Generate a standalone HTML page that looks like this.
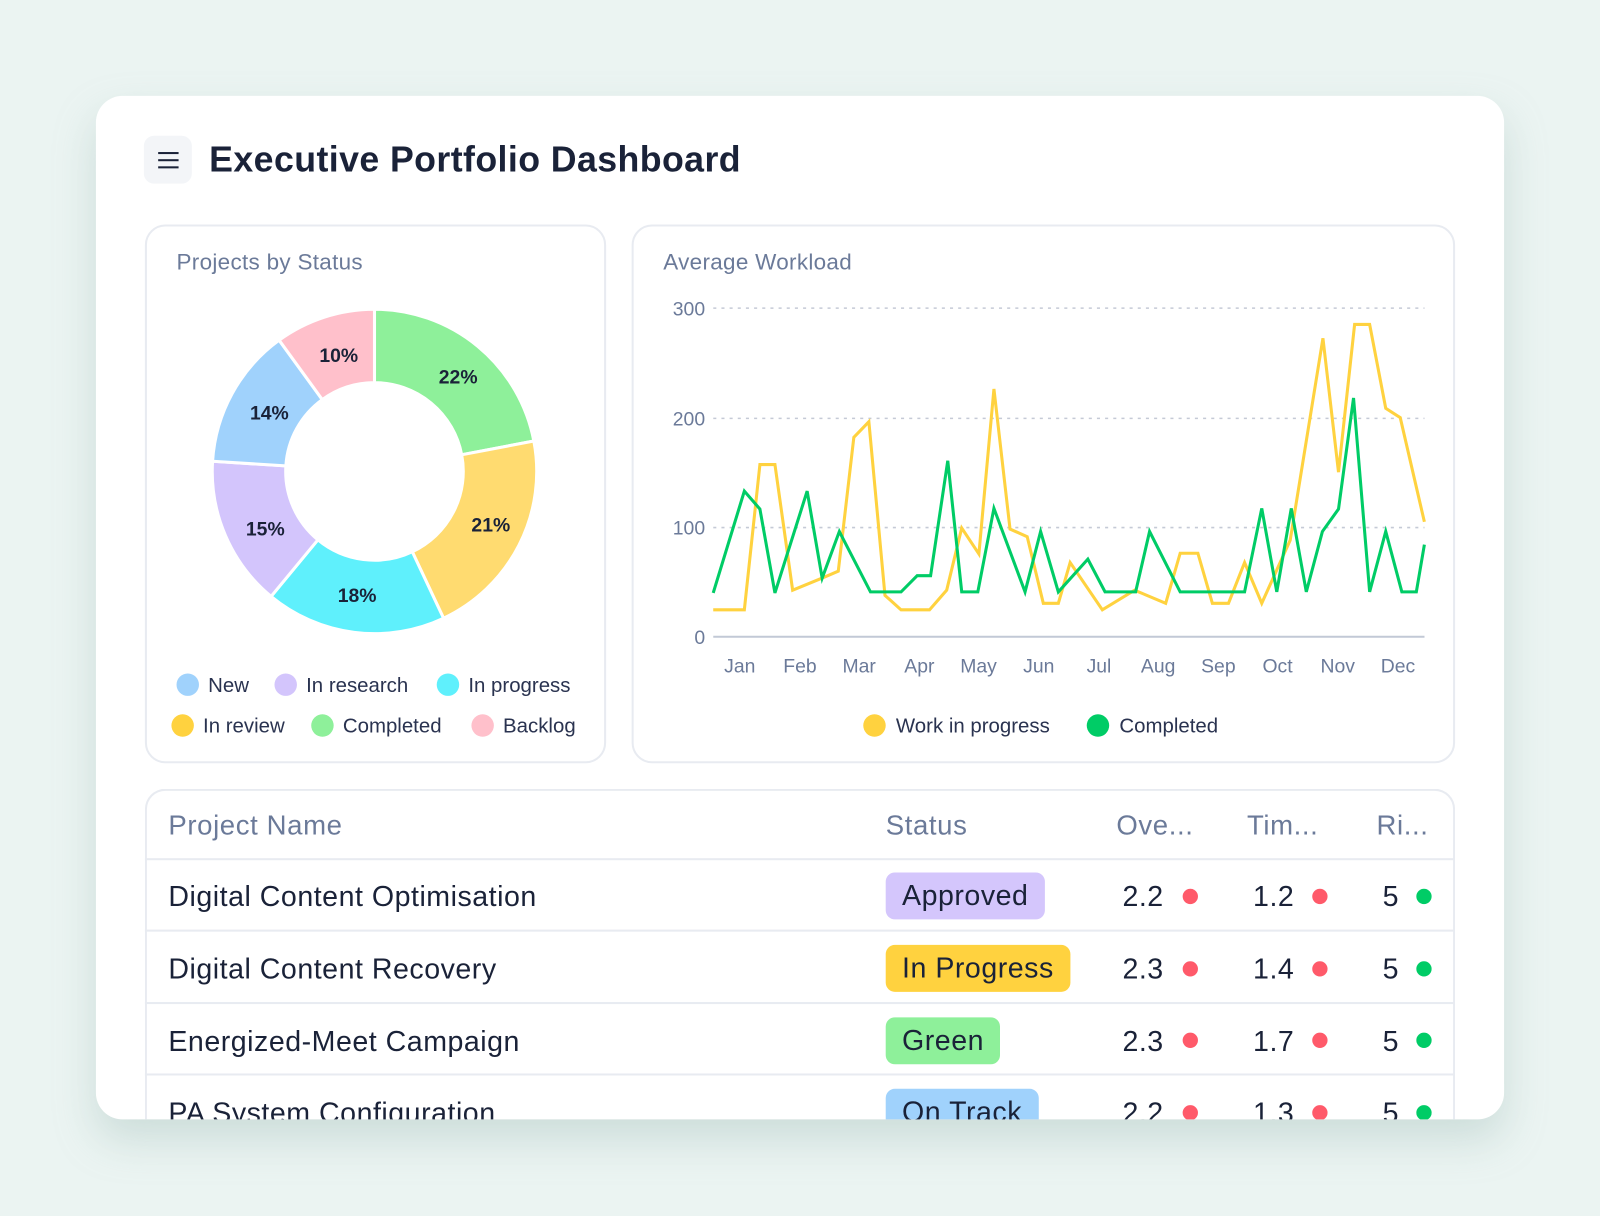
<!DOCTYPE html>
<html><head><meta charset="utf-8"><style>
html,body{margin:0;padding:0;width:1600px;height:1216px;overflow:hidden;background:#ebf4f2;}
#w{position:absolute;left:0;top:0;width:1568px;height:1192px;transform:scale(1.020408);transform-origin:0 0;font-family:"Liberation Sans",sans-serif;}
.card{position:absolute;left:94px;top:94px;width:1380px;height:1003px;background:#fff;border-radius:26px;box-shadow:0 20px 40px rgba(150,180,175,0.35);overflow:hidden;}
.abs{position:absolute;}
.t{position:absolute;white-space:nowrap;}
.panel{position:absolute;border:2px solid #e8ebf1;border-radius:20px;box-sizing:border-box;}
.dot{position:absolute;width:22px;height:22px;border-radius:50%;}
.leg{font-size:20px;color:#2a3350;}
.hd{font-size:27px;color:#6b7a99;letter-spacing:0.6px;}
.rw{font-size:28px;color:#1a2238;letter-spacing:0.5px;}
.badge{position:absolute;height:46px;line-height:46px;border-radius:9px;padding:0 16px;font-size:28px;letter-spacing:0.5px;color:#1a2238;}
.sd{position:absolute;width:15px;height:15px;border-radius:50%;}
.hl{position:absolute;left:0;width:1283px;height:2px;background:#e8ebf1;}
</style></head><body><div id="w">
<div class="card">
 <div class="abs" style="left:47px;top:39px;width:47px;height:47px;background:#f3f5f8;border-radius:10px;"></div>
 <div class="abs" style="left:61px;top:55px;width:20px;height:2px;background:#1a2238;"></div>
 <div class="abs" style="left:61px;top:62px;width:20px;height:2px;background:#1a2238;"></div>
 <div class="abs" style="left:61px;top:69px;width:20px;height:2px;background:#1a2238;"></div>
 <div class="t" style="left:111px;top:43px;font-size:35px;font-weight:bold;color:#1a2238;letter-spacing:0.4px;">Executive Portfolio Dashboard</div>
 <div class="panel" style="left:48px;top:126px;width:452px;height:528px;"></div>
 <div class="panel" style="left:525px;top:126px;width:807px;height:528px;"></div>
 <div class="panel" style="left:48px;top:679px;width:1284px;height:400px;border-bottom:none;"></div>
</div>
<div class="t" style="left:173px;top:244px;font-size:22px;color:#6b7a99;letter-spacing:0.3px;">Projects by Status</div>
<div class="t" style="left:650px;top:244px;font-size:22px;color:#6b7a99;letter-spacing:0.3px;">Average Workload</div>
<svg class="abs" style="left:0;top:0" width="1568" height="1192">
 <g id="donut"></g>
 <g font-family="Liberation Sans" font-size="19" font-weight="bold" fill="#1a2238" text-anchor="middle">
  <text x="449" y="376">22%</text><text x="481" y="521">21%</text><text x="350" y="590">18%</text>
  <text x="260" y="525">15%</text><text x="264" y="411">14%</text><text x="332" y="355">10%</text>
 </g>
 <g stroke="#c5cad6" stroke-width="1.5" stroke-dasharray="3,5">
  <line x1="699" y1="302" x2="1396" y2="302"/><line x1="699" y1="410" x2="1396" y2="410"/><line x1="699" y1="517" x2="1396" y2="517"/>
 </g>
 <line x1="699" y1="624" x2="1396" y2="624" stroke="#c2c9d6" stroke-width="2"/>
 <g font-family="Liberation Sans" font-size="19" fill="#6b7a99" text-anchor="end">
  <text x="691" y="309">300</text><text x="691" y="417">200</text><text x="691" y="524">100</text><text x="691" y="631">0</text>
 </g>
 <g font-family="Liberation Sans" font-size="19" fill="#6b7a99" text-anchor="middle">
  <text x="725" y="659">Jan</text><text x="784" y="659">Feb</text><text x="842" y="659">Mar</text><text x="901" y="659">Apr</text><text x="959" y="659">May</text><text x="1018" y="659">Jun</text><text x="1077" y="659">Jul</text><text x="1135" y="659">Aug</text><text x="1194" y="659">Sep</text><text x="1252" y="659">Oct</text><text x="1311" y="659">Nov</text><text x="1370" y="659">Dec</text>
 </g>
 <g transform="matrix(0.526,0,0,0.3382,606.9,214.8)" fill="none" stroke-width="3" stroke-linejoin="miter">
  <polyline vector-effect="non-scaling-stroke" stroke="#ffd23f" points="175,1132 233,1132 262,711 290,711 323,1075 378,1040 408,1020 437,632 465,587 495,1090 525,1132 578,1132 610,1075 638,895 670,970 698,492 728,898 760,920 790,1113 818,1113 840,995 900,1132 960,1075 1018,1113 1045,968 1078,968 1105,1113 1135,1113 1165,995 1197,1113 1250,930 1311,345 1340,733 1370,305 1398,305 1428,548 1455,575 1500,877"/>
  <polyline vector-effect="non-scaling-stroke" stroke="#00cc66" points="175,1083 233,788 262,840 290,1083 350,788 378,1040 410,905 468,1080 525,1080 555,1033 580,1033 612,700 638,1080 668,1080 698,838 756,1080 785,905 818,1080 873,985 905,1080 962,1080 988,905 1045,1080 1165,1080 1197,838 1225,1080 1252,838 1280,1080 1310,905 1340,840 1368,518 1398,1080 1428,905 1458,1080 1485,1080 1500,943"/>
 </g>
</svg>
<div class="dot" style="left:173px;top:660px;background:#a0d2fc"></div><div class="t leg" style="left:204px;top:661px">New</div>
<div class="dot" style="left:269px;top:660px;background:#d3c5fc"></div><div class="t leg" style="left:300px;top:661px">In research</div>
<div class="dot" style="left:428px;top:660px;background:#5ff0fc"></div><div class="t leg" style="left:459px;top:661px">In progress</div>
<div class="dot" style="left:168px;top:700px;background:#ffd23f"></div><div class="t leg" style="left:199px;top:701px">In review</div>
<div class="dot" style="left:305px;top:700px;background:#8ef09a"></div><div class="t leg" style="left:336px;top:701px">Completed</div>
<div class="dot" style="left:462px;top:700px;background:#ffc0cb"></div><div class="t leg" style="left:493px;top:701px">Backlog</div>
<div class="dot" style="left:846px;top:700px;background:#ffd23f"></div><div class="t leg" style="left:878px;top:701px">Work in progress</div>
<div class="dot" style="left:1065px;top:700px;background:#00cc66"></div><div class="t leg" style="left:1097px;top:701px">Completed</div>

<div class="abs" style="left:94px;top:0;width:1380px;height:1097px;overflow:hidden;">
<div class="abs" style="left:48px;top:0;width:1283px;height:1097px;">
 <div class="hl" style="top:841px"></div><div class="hl" style="top:911px"></div><div class="hl" style="top:982px"></div><div class="hl" style="top:1052px"></div>
</div>
</div>
<div class="t hd" style="left:165px;top:794px">Project Name</div>
<div class="t hd" style="left:868px;top:794px">Status</div>
<div class="t hd" style="left:1094px;top:794px">Ove...</div>
<div class="t hd" style="left:1222px;top:794px">Tim...</div>
<div class="t hd" style="left:1349px;top:794px">Ri...</div>
<div class="abs" style="left:94px;top:842px;width:1380px;height:255px;overflow:hidden;">
 <div class="abs" style="left:-94px;top:-842px;width:1568px;height:1192px;">
 <div class="t rw" style="left:165px;top:863px">Digital Content Optimisation</div>
 <div class="badge" style="left:868px;top:855px;background:#d4c6fc">Approved</div>
 <div class="t rw" style="left:1100px;top:863px">2.2</div><div class="sd" style="left:1159px;top:871px;background:#ff5a6a"></div>
 <div class="t rw" style="left:1228px;top:863px">1.2</div><div class="sd" style="left:1286px;top:871px;background:#ff5a6a"></div>
 <div class="t rw" style="left:1355px;top:863px">5</div><div class="sd" style="left:1388px;top:871px;background:#00cc66"></div>

 <div class="t rw" style="left:165px;top:934px">Digital Content Recovery</div>
 <div class="badge" style="left:868px;top:926px;background:#ffd23f">In Progress</div>
 <div class="t rw" style="left:1100px;top:934px">2.3</div><div class="sd" style="left:1159px;top:942px;background:#ff5a6a"></div>
 <div class="t rw" style="left:1228px;top:934px">1.4</div><div class="sd" style="left:1286px;top:942px;background:#ff5a6a"></div>
 <div class="t rw" style="left:1355px;top:934px">5</div><div class="sd" style="left:1388px;top:942px;background:#00cc66"></div>

 <div class="t rw" style="left:165px;top:1005px">Energized-Meet Campaign</div>
 <div class="badge" style="left:868px;top:997px;background:#8ef09a">Green</div>
 <div class="t rw" style="left:1100px;top:1005px">2.3</div><div class="sd" style="left:1159px;top:1012px;background:#ff5a6a"></div>
 <div class="t rw" style="left:1228px;top:1005px">1.7</div><div class="sd" style="left:1286px;top:1012px;background:#ff5a6a"></div>
 <div class="t rw" style="left:1355px;top:1005px">5</div><div class="sd" style="left:1388px;top:1012px;background:#00cc66"></div>

 <div class="t rw" style="left:165px;top:1075px">PA System Configuration</div>
 <div class="badge" style="left:868px;top:1067px;background:#a0d2fc">On Track</div>
 <div class="t rw" style="left:1100px;top:1075px">2.2</div><div class="sd" style="left:1159px;top:1083px;background:#ff5a6a"></div>
 <div class="t rw" style="left:1228px;top:1075px">1.3</div><div class="sd" style="left:1286px;top:1083px;background:#ff5a6a"></div>
 <div class="t rw" style="left:1355px;top:1075px">5</div><div class="sd" style="left:1388px;top:1083px;background:#00cc66"></div>
 </div>
</div>
</div>
<script>
(function(){
 var cx=367,cy=462,R=159,r=87;
 var segs=[[22,"#8ef09a"],[21,"#ffdb70"],[18,"#5ff0fc"],[15,"#d3c5fc"],[14,"#a0d2fc"],[10,"#ffc0cb"]];
 var g=document.getElementById("donut"),a=0,h="";
 function p(rad,ang){var t=(ang*3.6-90)*Math.PI/180;return (cx+rad*Math.cos(t)).toFixed(2)+","+(cy+rad*Math.sin(t)).toFixed(2);}
 segs.forEach(function(s){var b=a+s[0];var lg=s[0]>50?1:0;
  h+='<path d="M'+p(R,a)+' A'+R+','+R+' 0 '+lg+' 1 '+p(R,b)+' L'+p(r,b)+' A'+r+','+r+' 0 '+lg+' 0 '+p(r,a)+' Z" fill="'+s[1]+'" stroke="#fff" stroke-width="3"/>';a=b;});
 g.innerHTML=h;
})();
</script>
</body></html>
